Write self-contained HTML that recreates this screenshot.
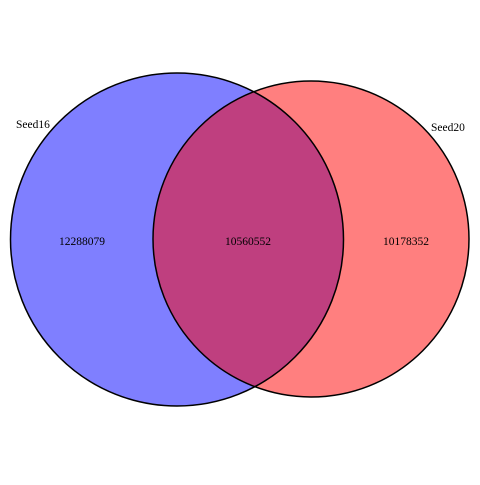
<!DOCTYPE html>
<html><head><style>html,body{margin:0;padding:0;background:#fff}</style></head><body>
<svg width="480" height="480" viewBox="0 0 480 480" xmlns="http://www.w3.org/2000/svg">
<rect width="480" height="480" fill="#fff"/>
<circle cx="177" cy="239.5" r="166.5" fill="#0000ff" fill-opacity="0.5"/>
<circle cx="311" cy="239" r="158" fill="#ff0000" fill-opacity="0.5"/>
<circle cx="177" cy="239.5" r="166.5" fill="none" stroke="#000" stroke-width="1.5"/>
<circle cx="311" cy="239" r="158" fill="none" stroke="#000" stroke-width="1.5"/>
<g font-family="Liberation Serif, serif" font-size="11.5" fill="#000">
<text x="16" y="128">Seed16</text>
<text x="431" y="131">Seed20</text>
<text x="82" y="245" text-anchor="middle">12288079</text>
<text x="248" y="245" text-anchor="middle">10560552</text>
<text x="406" y="245" text-anchor="middle">10178352</text>
</g>
</svg>
</body></html>
